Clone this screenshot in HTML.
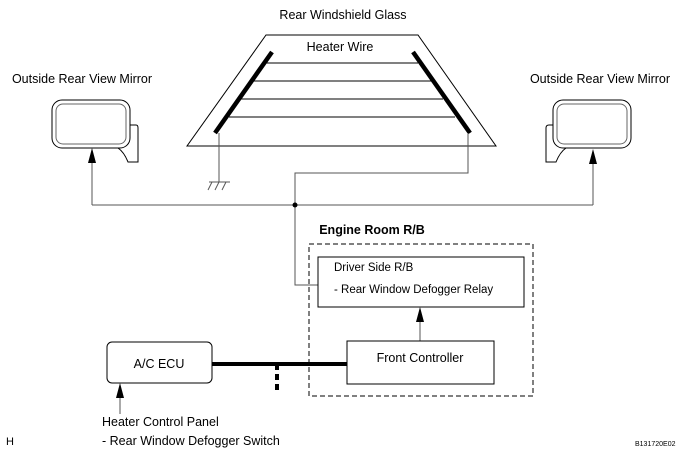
<!DOCTYPE html>
<html><head><style>body{margin:0;background:#fff}svg{display:block}text{font-family:"Liberation Sans",sans-serif;fill:#000}</style></head><body>
<svg width="687" height="458" viewBox="0 0 687 458">
<text x="343" y="19" font-size="12.5" text-anchor="middle">Rear Windshield Glass</text>
<polygon points="266,35 418,35 496,146 187,146" fill="none" stroke="#000" stroke-width="1"/>
<text x="340" y="51" font-size="12.5" text-anchor="middle">Heater Wire</text>
<g stroke="#000" stroke-width="1"><line x1="266" y1="63" x2="418" y2="63"/><line x1="253" y1="81" x2="431" y2="81"/><line x1="241" y1="99" x2="443" y2="99"/><line x1="229" y1="117" x2="455" y2="117"/></g>
<g stroke="#000" stroke-width="4.5"><line x1="272" y1="52" x2="215" y2="133"/><line x1="413" y1="52" x2="470" y2="133"/></g>
<g stroke="#555" stroke-width="1" fill="none">
<polyline points="219,133 219,182"/><line x1="209" y1="182" x2="230" y2="182"/>
<line x1="212" y1="182" x2="208" y2="190"/><line x1="219" y1="182" x2="215" y2="190"/><line x1="226" y1="182" x2="222" y2="190"/>
<polyline points="468,133 468,173 295,173 295,285 318,285"/>
<line x1="92" y1="205" x2="593" y2="205"/>
<line x1="92" y1="205" x2="92" y2="160"/>
<line x1="593" y1="205" x2="593" y2="160"/>
<line x1="420" y1="341" x2="420" y2="320"/>
<line x1="120" y1="414" x2="120" y2="395"/>
</g>
<g fill="#000">
<polygon points="92,148 88,163 96,163"/>
<polygon points="593,149 589,164 597,164"/>
<polygon points="420,307 416,322 424,322"/>
<polygon points="120,383 116,398 124,398"/>
</g>
<circle cx="295" cy="205" r="2.5" fill="#000"/>
<text x="82" y="83" font-size="12.5" text-anchor="middle">Outside Rear View Mirror</text>
<text x="600" y="83" font-size="12.5" text-anchor="middle">Outside Rear View Mirror</text>
<g fill="none" stroke="#000" stroke-width="1">
<path d="M126,125 H136 Q138,125 138,128 V162 H128 Q124,152 118,148"/>
<rect x="52" y="100" width="78" height="48" rx="10" fill="#fff"/><rect x="56" y="104" width="70" height="40" rx="7" stroke="#666"/>
<path d="M558,125 H549 Q546,125 546,128 V162 H556 Q560,152 566,148"/>
<rect x="553" y="100" width="78" height="48" rx="10" fill="#fff"/><rect x="557" y="104" width="70" height="40" rx="7" stroke="#666"/>
</g>
<text x="372" y="234" font-size="12.5" font-weight="bold" text-anchor="middle">Engine Room R/B</text>
<rect x="309" y="244" width="224" height="152" fill="none" stroke="#000" stroke-dasharray="5,3"/>
<rect x="318" y="257" width="206" height="50" fill="#fff" stroke="#000"/>
<text x="334" y="271" font-size="11.5">Driver Side R/B</text>
<text x="334" y="293" font-size="11.5">- Rear Window Defogger Relay</text>
<rect x="347" y="341" width="147" height="43" fill="#fff" stroke="#000"/>
<text x="420" y="362" font-size="12.5" text-anchor="middle">Front Controller</text>
<rect x="107" y="342" width="105" height="41" rx="5" fill="#fff" stroke="#000"/>
<text x="159" y="368" font-size="12.5" text-anchor="middle">A/C ECU</text>
<line x1="212" y1="364" x2="347" y2="364" stroke="#000" stroke-width="4"/>
<line x1="277" y1="364" x2="277" y2="393" stroke="#000" stroke-width="4" stroke-dasharray="6,4"/>
<text x="102" y="426" font-size="12.5">Heater Control Panel</text>
<text x="102" y="445" font-size="12.5">- Rear Window Defogger Switch</text>
<text x="6" y="445" font-size="11">H</text>
<text x="635" y="446" font-size="7">B131720E02</text>
</svg>
</body></html>
